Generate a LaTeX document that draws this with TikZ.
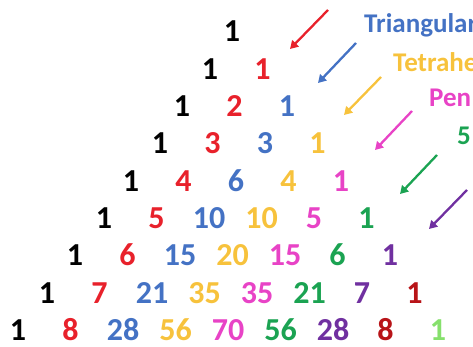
\documentclass[tikz,border=0pt]{standalone}
\usepackage{fontspec}
\setmainfont{Carlito}
\usetikzlibrary{arrows.meta}
\definecolor{c0}{HTML}{000000}
\definecolor{c1}{HTML}{E8212B}
\definecolor{c2}{HTML}{4472C4}
\definecolor{c3}{HTML}{F7C23C}
\definecolor{c4}{HTML}{E843C6}
\definecolor{c5}{HTML}{1BA352}
\definecolor{c6}{HTML}{7030A0}
\definecolor{c7}{HTML}{B81418}
\definecolor{c8}{HTML}{86E06C}
\tikzset{
  num/.style={anchor=base, inner sep=0pt, font=\fontsize{32}{32}\selectfont\bfseries},
  lab/.style={anchor=base west, inner sep=0pt, font=\fontsize{27}{28}\selectfont\bfseries},
  arr/.style={line width=2.3pt, -{Triangle[length=8pt,width=9pt]}}
}
\newcommand\prow[3]{%
  \foreach \v [count=\k from 0] in {#3} {%
    \node[num, text=c\k] (n#1-\k) at ({#2+52.5*\k},{42+37.3*#1}) {\v};}}
\begin{document}
\begin{tikzpicture}[x=1pt,y=-1pt]
\useasboundingbox (0,0) rectangle (473,347);
\clip (0,0) rectangle (473,347);
\prow{0}{232}{1}
\prow{1}{210}{1,1}
\prow{2}{182}{1,2,1}
\prow{3}{160}{1,3,3,1}
\prow{4}{131}{1,4,6,4,1}
\prow{5}{104}{1,5,10,10,5,1}
\prow{6}{75}{1,6,15,20,15,6,1}
\prow{7}{47}{1,7,21,35,35,21,7,1}
\prow{8}{18}{1,8,28,56,70,56,28,8,1}
% labels
\node[lab, text=c2] (l1) at (364,33) {Triangular};
\node[lab, text=c3] (l2) at (393,72) {Tetrahe};
\node[lab, text=c4] (l3) at (429,107) {Pen};
\node[lab, text=c5] (l4) at (457,145) {5};
% arrows
\coordinate (a1s) at (328,10);  \coordinate (a1e) at (290,49);
\coordinate (a2s) at (356,43);  \coordinate (a2e) at (318,83);
\coordinate (a3s) at (381,77);  \coordinate (a3e) at (344,115);
\coordinate (a4s) at (412,111); \coordinate (a4e) at (375,150);
\coordinate (a5s) at (437,155); \coordinate (a5e) at (400,194);
\coordinate (a6s) at (467,190); \coordinate (a6e) at (429,229);
\draw[arr, c1] (a1s) -- (a1e);
\draw[arr, c2] (a2s) -- (a2e);
\draw[arr, c3] (a3s) -- (a3e);
\draw[arr, c4] (a4s) -- (a4e);
\draw[arr, c5] (a5s) -- (a5e);
\draw[arr, c6] (a6s) -- (a6e);
\end{tikzpicture}
\end{document}
